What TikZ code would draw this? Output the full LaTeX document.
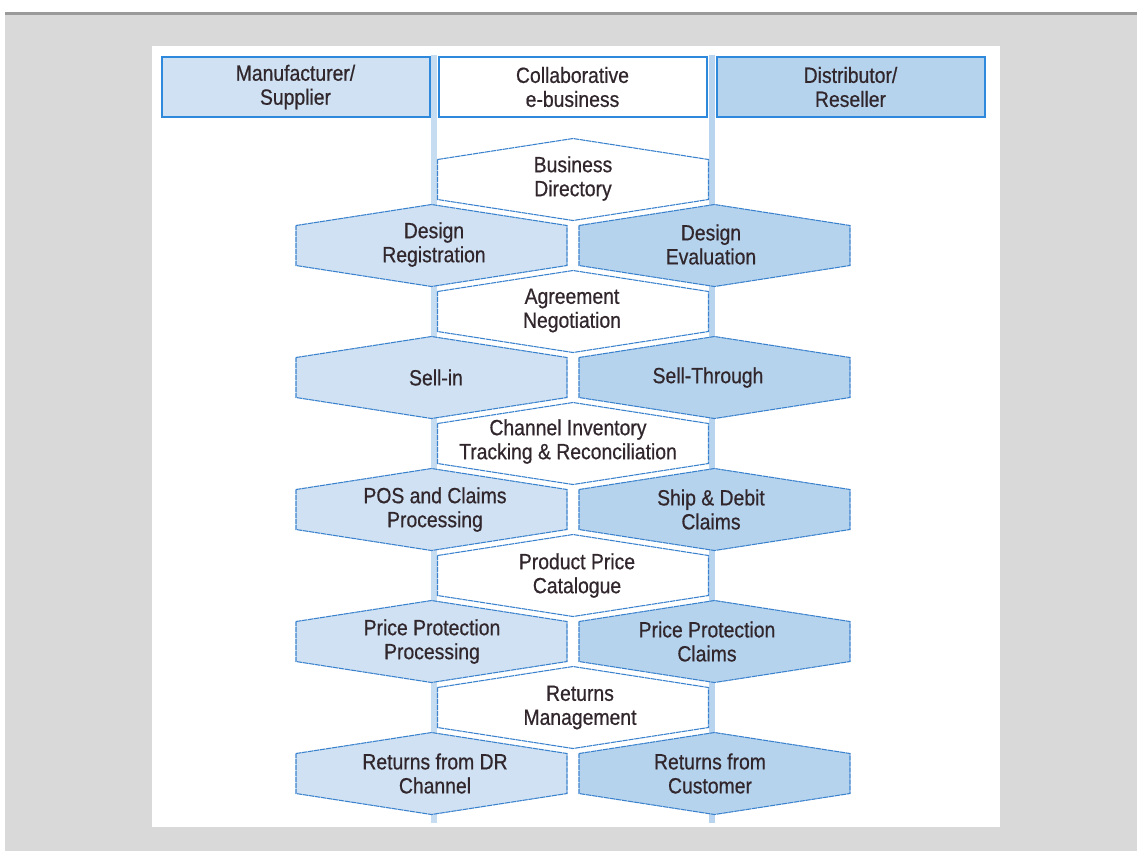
\documentclass[tikz,border=0pt]{standalone}
\usepackage{fontspec}
\setmainfont{Liberation Sans}[FakeStretch=0.88, FakeBold=0.6]
\definecolor{bggray}{HTML}{D9D9D9}
\definecolor{topline}{HTML}{9A9A9A}
\definecolor{lfill}{HTML}{CFE1F2}
\definecolor{rfill}{HTML}{B6D3EE}
\definecolor{hdrline}{HTML}{2E88DC}
\definecolor{hexline}{HTML}{3A82CE}
\definecolor{vline}{HTML}{C6DCF1}
\definecolor{vliner}{HTML}{B8D4EF}
\definecolor{txtcol}{RGB}{48,38,44}
\tikzset{
  hexbord/.style={draw=hexline, line width=0.8pt, dash pattern=on 4pt off 0.5pt},
  txt/.style={align=center, text=txtcol, font=\fontsize{16.5}{18}\selectfont, inner sep=0pt},
  hdr/.style={draw=hdrline, line width=1.5pt, minimum width=201pt, minimum height=45.5pt, align=center, text=txtcol, font=\fontsize{16.5}{18}\selectfont, inner sep=0pt},
}
\newcommand\hexa[3]{% cx, cy, fill
  \filldraw[hexbord, fill=#3] (#1-135.5,#2-20) -- (#1,#2-41) -- (#1+135.5,#2-20) -- (#1+135.5,#2+20) -- (#1,#2+41) -- (#1-135.5,#2+20) -- cycle;}
\begin{document}
\begin{tikzpicture}[x=0.75pt, y=-0.75pt]
\useasboundingbox (0,0) rectangle (1137,851);
% background
\fill[bggray] (5,12) rectangle (1137,851);
\fill[topline] (5,12) rectangle (1137,14.5);
\fill[white] (152,46) rectangle (999.5,826.5);
% vertical lanes
\coordinate (l1) at (434,55);
\coordinate (l2) at (434,823);
\coordinate (r1) at (712,55);
\coordinate (r2) at (712,823);
\draw[vline, line width=4.5pt] (l1) -- (l2);
\draw[vliner, line width=4.5pt] (r1) -- (r2);
% headers
\node[hdr, fill=lfill] (hl) at (295.5,87) {Manufacturer/\\Supplier};
\node[hdr, fill=white] (hc) at (572.5,87) {Collaborative\\e-business};
\node[hdr, fill=rfill] (hr) at (850.5,87) {Distributor/\\Reseller};
% hexagons
\hexa{573}{179.5}{white}
\node[txt] (bd) at (573,178.5) {Business\\Directory};
\hexa{431.5}{245.5}{lfill}
\node[txt] (dreg) at (434,244.5) {Design\\Registration};
\hexa{714.5}{245.5}{rfill}
\node[txt] (deval) at (711,244.5) {Design\\Evaluation};
\hexa{573}{311.5}{white}
\node[txt] (agr) at (572,310.5) {Agreement\\Negotiation};
\hexa{431.5}{377.5}{lfill}
\node[txt] (sin) at (436,377.5) {Sell-in};
\hexa{714.5}{377.5}{rfill}
\node[txt] (sthr) at (708,377.5) {Sell-Through};
\hexa{573}{443.5}{white}
\node[txt] (chan) at (568,441.5) {Channel Inventory\\Tracking \& Reconciliation};
\hexa{431.5}{509.5}{lfill}
\node[txt] (pos) at (435,509.5) {POS and Claims\\Processing};
\hexa{714.5}{509.5}{rfill}
\node[txt] (ship) at (711,509.5) {Ship \& Debit\\Claims};
\hexa{573}{575.5}{white}
\node[txt] (ppc) at (577,575.5) {Product Price\\Catalogue};
\hexa{431.5}{641.5}{lfill}
\node[txt] (ppp) at (432,641.5) {Price Protection\\Processing};
\hexa{714.5}{641.5}{rfill}
\node[txt] (ppcl) at (707,641.5) {Price Protection\\Claims};
\hexa{573}{707.5}{white}
\node[txt] (rm) at (580,707.5) {Returns\\Management};
\hexa{431.5}{773.5}{lfill}
\node[txt] (rdr) at (435,773.5) {Returns from DR\\Channel};
\hexa{714.5}{773.5}{rfill}
\node[txt] (rcu) at (710,773.5) {Returns from\\Customer};
\end{tikzpicture}
\end{document}
